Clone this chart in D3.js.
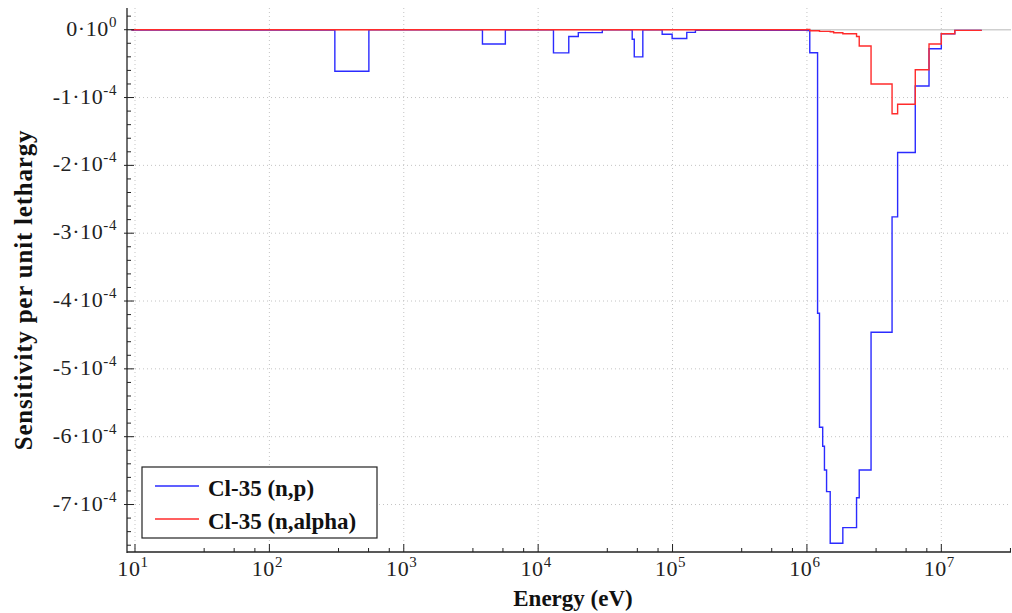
<!DOCTYPE html>
<html><head><meta charset="utf-8">
<script src="https://cdn.jsdelivr.net/npm/d3@7"></script>
<style>body{margin:0;background:#fff}svg{display:block}</style>
</head><body>
<svg id="chart" width="1012" height="613"></svg>
<script>
// Group boundaries (eV) shared by both series
const energyEdges = [9.4, 307, 550, 3850, 5700, 13000, 16900, 19900, 30000, 50100, 51900, 60100,
  83700, 99300, 127600, 148000, 1.0e6, 1.05e6, 1.2e6, 1.24e6, 1.31e6, 1.35e6, 1.40e6, 1.49e6,
  1.58e6, 1.85e6, 2.34e6, 2.45e6, 3.0e6, 4.3e6, 4.73e6, 6.4e6, 8.1e6, 1.0e7, 1.26e7, 2.0e7];
// Sensitivity per unit lethargy, one value per group
const npValues = [-0.05e-5, -6.12e-5, -0.03e-5, -2.1e-5, -0.03e-5, -3.42e-5, -1.0e-5, -0.43e-5,
  -0.03e-5, -1.4e-5, -4.0e-5, -0.03e-5, -0.66e-5, -1.3e-5, -0.4e-5, -0.08e-5, -0.12e-5, -3.4e-5,
  -41.8e-5, -58.6e-5, -61.4e-5, -64.9e-5, -68.1e-5, -75.7e-5, -75.7e-5, -73.4e-5, -69.0e-5,
  -64.9e-5, -44.6e-5, -27.6e-5, -18.1e-5, -8.3e-5, -2.8e-5, -0.6e-5, -0.1e-5];
const alphaValues = [0, 0, 0, 0, 0, 0, 0, 0, 0, 0, 0, 0, 0, 0, 0, 0, 0.05e-5, -0.15e-5,
  -0.15e-5, -0.25e-5, -0.25e-5, -0.25e-5, -0.25e-5, -0.3e-5, -0.45e-5, -0.6e-5, -1.0e-5,
  -2.4e-5, -8.0e-5, -12.4e-5, -11.0e-5, -5.9e-5, -2.1e-5, -0.6e-5, -0.1e-5];
const seriesNames = ["Cl-35 (n,p)", "Cl-35 (n,alpha)"];
const seriesColors = ["#2b2bff", "#ff2b2b"];
const xTickExponents = [1, 2, 3, 4, 5, 6, 7];
const xMinorMultipliers = [3.27, 5.47, 7.8];
const yTickMantissas = [0, -1, -2, -3, -4, -5, -6, -7];
const yTickExponent = -4;

const svg = d3.select("#chart");
const pLeft = 127, pRight = 1011, pTop = 8, pBottom = 552;
const x = d3.scaleLog().domain([8.72, 3.3e7]).range([pLeft, pRight]);
const y = d3.scaleLinear().domain([0.32e-4, -7.70e-4]).range([pTop, pBottom]);
const serif = "'Liberation Serif','Times New Roman',serif";

// grid
const grid = svg.append("g");
xTickExponents.forEach(e => {
  grid.append("line").attr("x1", x(Math.pow(10, e))).attr("x2", x(Math.pow(10, e)))
    .attr("y1", pTop).attr("y2", pBottom)
    .attr("stroke", "#c4c4c4").attr("stroke-width", 1).attr("stroke-dasharray", "1,3");
});
yTickMantissas.filter(m => m !== 0).forEach(m => {
  const v = m * Math.pow(10, yTickExponent);
  grid.append("line").attr("x1", pLeft).attr("x2", pRight).attr("y1", y(v)).attr("y2", y(v))
    .attr("stroke", "#c4c4c4").attr("stroke-width", 1).attr("stroke-dasharray", "1,3");
});
grid.append("line").attr("x1", pLeft).attr("x2", pRight).attr("y1", y(0)).attr("y2", y(0))
  .attr("stroke", "#cfcfcf").attr("stroke-width", 1.5);

// series
function stepData(vals) {
  const pts = vals.map((v, i) => [energyEdges[i], v]);
  pts.push([energyEdges[energyEdges.length - 1], vals[vals.length - 1]]);
  return pts;
}
const line = d3.line().x(d => x(d[0])).y(d => y(d[1])).curve(d3.curveStepAfter);
[npValues, alphaValues].forEach((vals, i) => {
  svg.append("path").attr("d", line(stepData(vals))).attr("fill", "none")
    .attr("stroke", seriesColors[i]).attr("stroke-width", 1.4);
});

// axes
const ax = svg.append("g").attr("stroke", "#222");
ax.append("line").attr("x1", pLeft).attr("x2", pLeft).attr("y1", pTop).attr("y2", pBottom + 1).attr("stroke-width", 1.3);
ax.append("line").attr("x1", pLeft).attr("x2", pRight).attr("y1", pBottom).attr("y2", pBottom).attr("stroke-width", 1.3);
for (let k = 1; k >= -38; k--) {
  const v = k * 0.2e-4;
  if (v > y.domain()[0] || v < y.domain()[1]) continue;
  const major = (k % 5 === 0);
  ax.append("line").attr("x1", major ? pLeft - 3 : pLeft).attr("x2", pLeft + (major ? 7 : 4))
    .attr("y1", y(v)).attr("y2", y(v)).attr("stroke-width", 1);
}
xTickExponents.concat([0]).forEach(e => {
  const d = Math.pow(10, e);
  if (d >= x.domain()[0]) ax.append("line").attr("x1", x(d)).attr("x2", x(d)).attr("y1", pBottom).attr("y2", pBottom - 8).attr("stroke-width", 1);
  xMinorMultipliers.forEach(m => {
    const v = d * m;
    if (v >= x.domain()[0] && v <= x.domain()[1] * 1.001)
      ax.append("line").attr("x1", x(v)).attr("x2", x(v)).attr("y1", pBottom).attr("y2", pBottom - 4).attr("stroke-width", 1);
  });
});

// tick labels
const tl = svg.append("g").attr("font-family", serif).attr("fill", "#222");
yTickMantissas.forEach(m => {
  const v = m * Math.pow(10, yTickExponent);
  const t = tl.append("text").attr("x", 117).attr("y", y(v) + 6).attr("text-anchor", "end")
    .attr("font-size", 22).attr("letter-spacing", 0.6);
  t.append("tspan").text(m === 0 ? "0·10" : m + "·10");
  t.append("tspan").attr("dy", -9).attr("font-size", 15).text(m === 0 ? "0" : String(yTickExponent));
});
xTickExponents.forEach(e => {
  const t = tl.append("text").attr("x", x(Math.pow(10, e)) - 2).attr("y", 576).attr("text-anchor", "middle")
    .attr("font-size", 22).attr("letter-spacing", 0.6);
  t.append("tspan").text("10");
  t.append("tspan").attr("dy", -9).attr("font-size", 15).text(String(e));
});

// axis titles
svg.append("text").attr("x", 573).attr("y", 606).attr("text-anchor", "middle")
  .attr("font-family", serif).attr("font-weight", "bold").attr("font-size", 23).attr("fill", "#111")
  .text("Energy (eV)");
svg.append("text").attr("transform", "translate(32,290) rotate(-90)").attr("text-anchor", "middle")
  .attr("font-family", serif).attr("font-weight", "bold").attr("font-size", 25).attr("fill", "#111")
  .attr("letter-spacing", 0.8)
  .text("Sensitivity per unit lethargy");

// legend
const lg = svg.append("g");
lg.append("rect").attr("x", 142).attr("y", 467).attr("width", 235).attr("height", 71)
  .attr("fill", "#fff").attr("stroke", "#222").attr("stroke-width", 1.2);
seriesNames.forEach((n, i) => {
  const yy = 486 + i * 33;
  lg.append("line").attr("x1", 155).attr("x2", 199).attr("y1", yy).attr("y2", yy)
    .attr("stroke", seriesColors[i]).attr("stroke-width", 1.4);
  lg.append("text").attr("x", 208).attr("y", yy + 10).attr("font-family", serif)
    .attr("font-weight", "bold").attr("font-size", 23)
    .attr("fill", "#111").text(n);
});
</script>
</body></html>
